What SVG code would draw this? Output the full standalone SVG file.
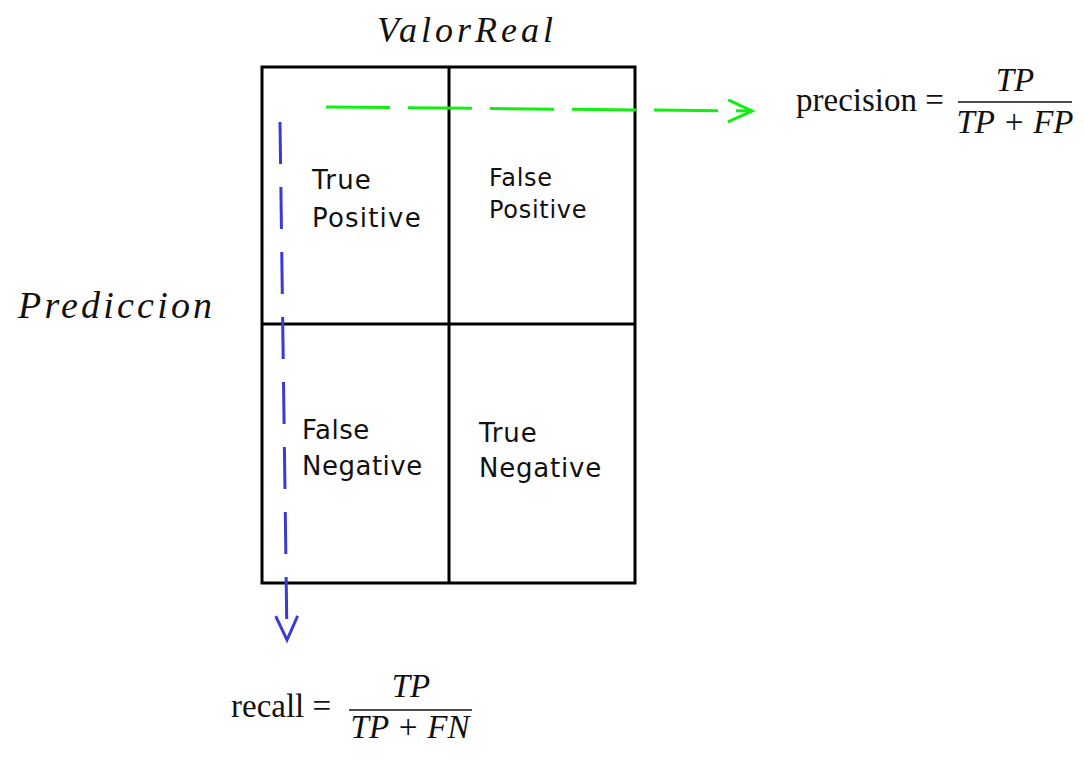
<svg xmlns="http://www.w3.org/2000/svg" width="1084" height="762" viewBox="0 0 1084 762">
<style>
.cell{font-family:"DejaVu Sans",sans-serif;font-size:26px;fill:#111;letter-spacing:0.8px}
.math{font-family:"Liberation Serif",serif;fill:#111;font-size:33px}
.it{font-style:italic}
.grid{fill:none;stroke:#000;stroke-width:3}
</style>
<defs>
<marker id="ag" markerWidth="30" markerHeight="30" refX="26" refY="12" orient="auto" markerUnits="userSpaceOnUse"><path d="M2,1 L26,12 L2,23" fill="none" stroke="#11ee11" stroke-width="3"/></marker>
<marker id="ab" markerWidth="30" markerHeight="30" refX="26" refY="12" orient="auto" markerUnits="userSpaceOnUse"><path d="M2,1 L26,12 L2,23" fill="none" stroke="#3a3ad6" stroke-width="3"/></marker>
</defs>
<rect width="1084" height="762" fill="#fff"/>
<g id="matrix">
<rect class="grid" x="262" y="67" width="373" height="516"/>
<line class="grid" x1="449" y1="67" x2="449" y2="583"/>
<line class="grid" x1="262" y1="324" x2="635" y2="324"/>
</g>
<g id="tp"><text class="cell" x="312" y="189" style="letter-spacing:1.2px">True</text><text class="cell" x="312" y="227" style="letter-spacing:1.2px">Positive</text></g>
<g id="fp"><text class="cell" x="489" y="186" style="font-size:24px;letter-spacing:0.7px">False</text><text class="cell" x="489" y="218" style="font-size:24px;letter-spacing:0.7px">Positive</text></g>
<g id="fn"><text class="cell" x="302" y="439" style="letter-spacing:0.5px">False</text><text class="cell" x="302" y="475" style="letter-spacing:0.5px">Negative</text></g>
<g id="tn"><text class="cell" x="479" y="442">True</text><text class="cell" x="479" y="477">Negative</text></g>
<g id="labels">
<text class="math it" x="377" y="42" style="font-size:36px;letter-spacing:4px">ValorReal</text>
<text class="math it" x="18" y="318" style="font-size:38px;letter-spacing:3.2px">Prediccion</text>
</g>
<g id="connectors">
<path d="M326,107 L752,111" fill="none" stroke="#11ee11" stroke-width="3" stroke-dasharray="64 18" marker-end="url(#ag)"/>
<path d="M280,122 L287,640" fill="none" stroke="#3a3ad6" stroke-width="3" stroke-dasharray="42 23" marker-end="url(#ab)"/>
</g>
<g id="precision">
<text class="math" x="796" y="111">precision =</text>
<text class="math it" x="1015" y="91" text-anchor="middle">TP</text>
<line x1="958" y1="102" x2="1072" y2="102" stroke="#111" stroke-width="1.5"/>
<text class="math it" x="1015" y="133" text-anchor="middle">TP + FP</text>
</g>
<g id="recall">
<text class="math" x="231" y="717">recall =</text>
<text class="math it" x="411" y="697" text-anchor="middle">TP</text>
<line x1="349" y1="710" x2="472" y2="710" stroke="#111" stroke-width="1.5"/>
<text class="math it" x="410" y="738" text-anchor="middle">TP + FN</text>
</g>
</svg>
